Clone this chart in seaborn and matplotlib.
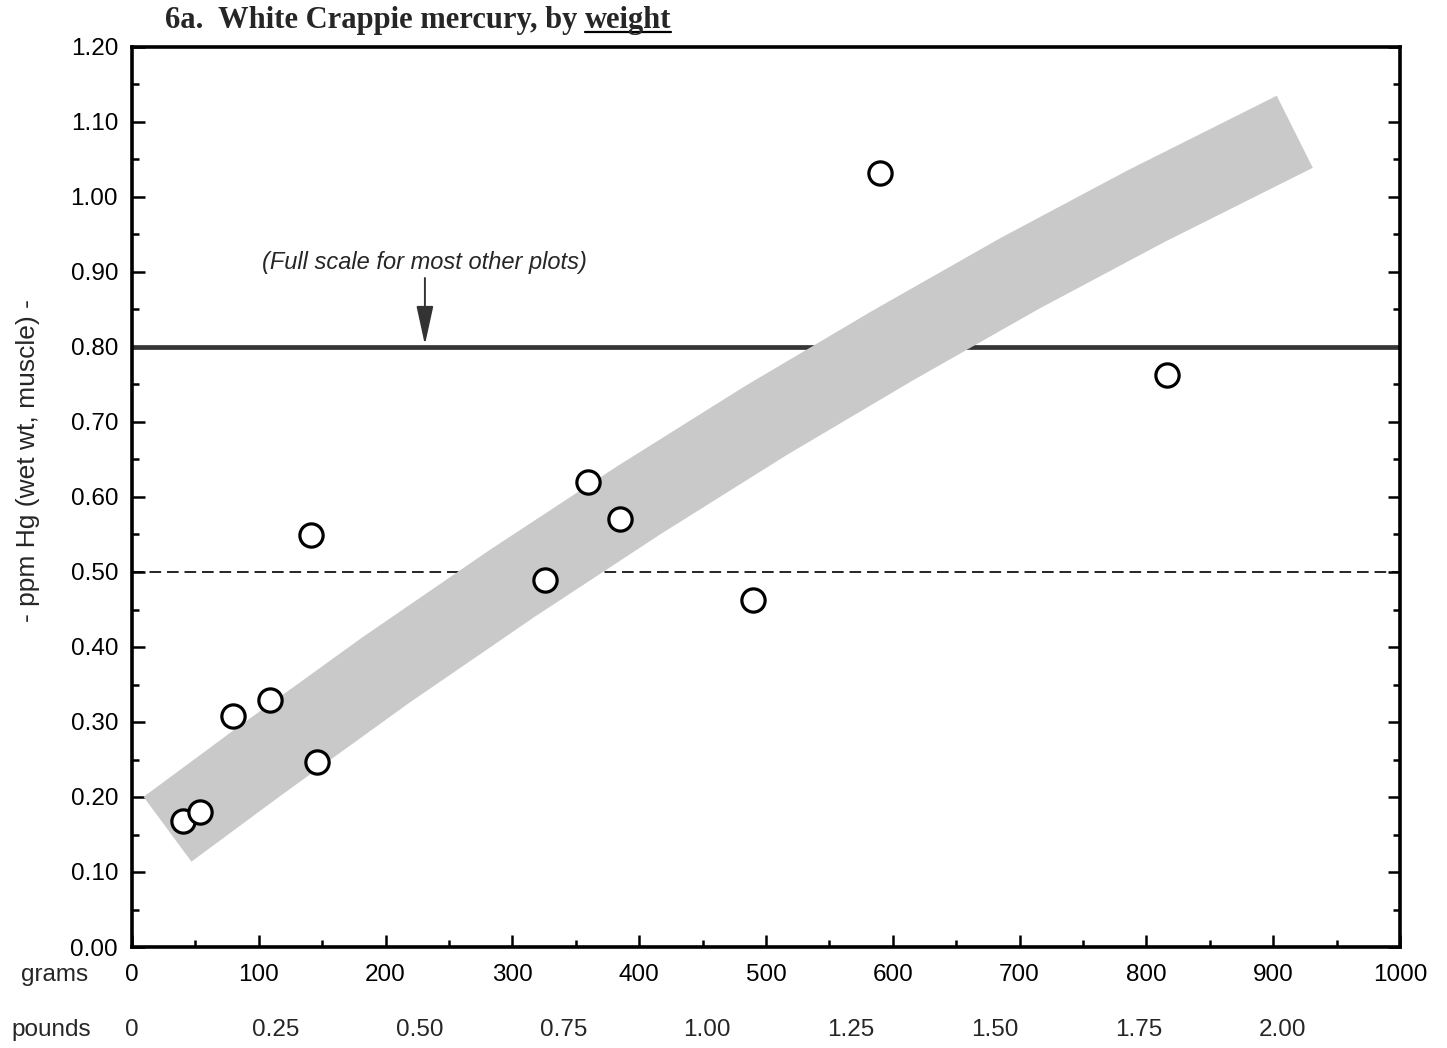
import numpy as np
import pandas as pd
import seaborn as sns
import matplotlib.pyplot as plt
from matplotlib.ticker import MultipleLocator
from matplotlib.transforms import blended_transform_factory

# fish weight (g) and mercury in muscle (ppm, wet wt)
grams = [40, 54, 80, 109, 141, 146, 326, 360, 385, 490, 590, 816]
ppm_hg = [0.168, 0.180, 0.308, 0.329, 0.549, 0.247, 0.489, 0.620, 0.571, 0.463, 1.032, 0.763]

# centre of the shaded trend band
band_grams = [28, 100, 200, 300, 400, 500, 600, 700, 800, 917]
band_ppm = [0.157, 0.247, 0.369, 0.485, 0.596, 0.702, 0.802, 0.898, 0.988, 1.087]

gram_ticks = [0, 100, 200, 300, 400, 500, 600, 700, 800, 900, 1000]
pound_ticks = [0, 0.25, 0.50, 0.75, 1.00, 1.25, 1.50, 1.75, 2.00]
pound_labels = ['0', '0.25', '0.50', '0.75', '1.00', '1.25', '1.50', '1.75', '2.00']
full_scale = 0.80
dashed_level = 0.50

df = pd.DataFrame({'grams': grams, 'ppm': ppm_hg})
band = pd.DataFrame({'grams': band_grams, 'ppm': band_ppm})

sns.set_style('white')
plt.rcParams['font.family'] = ['Liberation Sans', 'DejaVu Sans']

fig = plt.figure(figsize=(14.47, 10.48), dpi=100)
ax = fig.add_axes([132/1447, 1-947/1048, 1268/1447, 900/1048])

# reference lines
ax.axhline(full_scale, color='#353535', lw=3.4, zorder=2)
ax.axhline(dashed_level, color='black', lw=1.2, ls=(0, (7, 3.5)), zorder=2)

# trend band as a wide line with square ends
sns.lineplot(data=band, x='grams', y='ppm', sort=False, color='#c9c9c9', lw=58,
             solid_capstyle='butt', solid_joinstyle='round', zorder=3, ax=ax)

sns.scatterplot(data=df, x='grams', y='ppm', s=280, facecolor='white',
                edgecolor='black', linewidth=2.3, zorder=5, ax=ax)

ax.set_xlim(0, 1000)
ax.set_ylim(0, 1.2)
ax.set_xticks(gram_ticks)
ax.set_xticklabels([str(g) for g in gram_ticks])
ax.xaxis.set_minor_locator(MultipleLocator(50))
ax.yaxis.set_major_locator(MultipleLocator(0.1))
ax.yaxis.set_minor_locator(MultipleLocator(0.05))
ax.yaxis.set_major_formatter(lambda v, p: f'{v:.2f}')
ax.tick_params(axis='both', which='both', direction='in', width=1.8, labelsize=17.5, colors='black')
ax.tick_params(axis='both', which='major', length=9)
ax.tick_params(axis='both', which='minor', length=5)
ax.tick_params(axis='y', which='both', left=True, right=True)
ax.tick_params(axis='x', which='both', bottom=True, top=False, pad=12)
ax.tick_params(axis='y', pad=10)
for s in ax.spines.values():
    s.set_linewidth(2.6)
    s.set_color('black')

ax.set_xlabel('')
ax.set_ylabel('- ppm Hg (wet wt, muscle) -', fontsize=19)
ax.yaxis.set_label_coords(-0.0726, 0.541)

# pounds row
trans = blended_transform_factory(ax.transData, ax.transAxes)
for lb, lab in zip(pound_ticks, pound_labels):
    ax.text(lb * 453.6, -0.092, lab, transform=trans, ha='center', va='center', fontsize=17.5)
fig.text(55/1447, 1-975/1048, 'grams', ha='center', va='center', fontsize=17.5)
fig.text(51/1447, 1-1030/1048, 'pounds', ha='center', va='center', fontsize=17.5)

# annotation
ax.annotate('', xy=(231, 0.803), xytext=(231, 0.892),
            arrowprops=dict(arrowstyle='-|>,head_length=1.6,head_width=0.35',
                            mutation_scale=15, color='#333333', lw=1.4,
                            shrinkA=0, shrinkB=0), zorder=4)
ax.text(231, 0.912, '(Full scale for most other plots)', style='italic',
        ha='center', va='center', fontsize=17)

# title with underlined last word
t1 = fig.text(165/1447, 1-28/1048, '6a.  White Crappie mercury, by ', family='Liberation Serif',
              weight='bold', fontsize=22, va='baseline', ha='left')
fig.canvas.draw()
r = fig.canvas.get_renderer()
bb = t1.get_window_extent(r)
t2 = fig.text(bb.x1/fig.bbox.width, 1-28/1048, 'weight', family='Liberation Serif',
              weight='bold', fontsize=22, va='baseline', ha='left')
bb2 = t2.get_window_extent(r)
uy = 1-32/1048
fig.add_artist(plt.Line2D([bb2.x0/fig.bbox.width, bb2.x1/fig.bbox.width], [uy, uy],
                          color='black', lw=1.6))

fig.savefig('out.png', dpi=100)
